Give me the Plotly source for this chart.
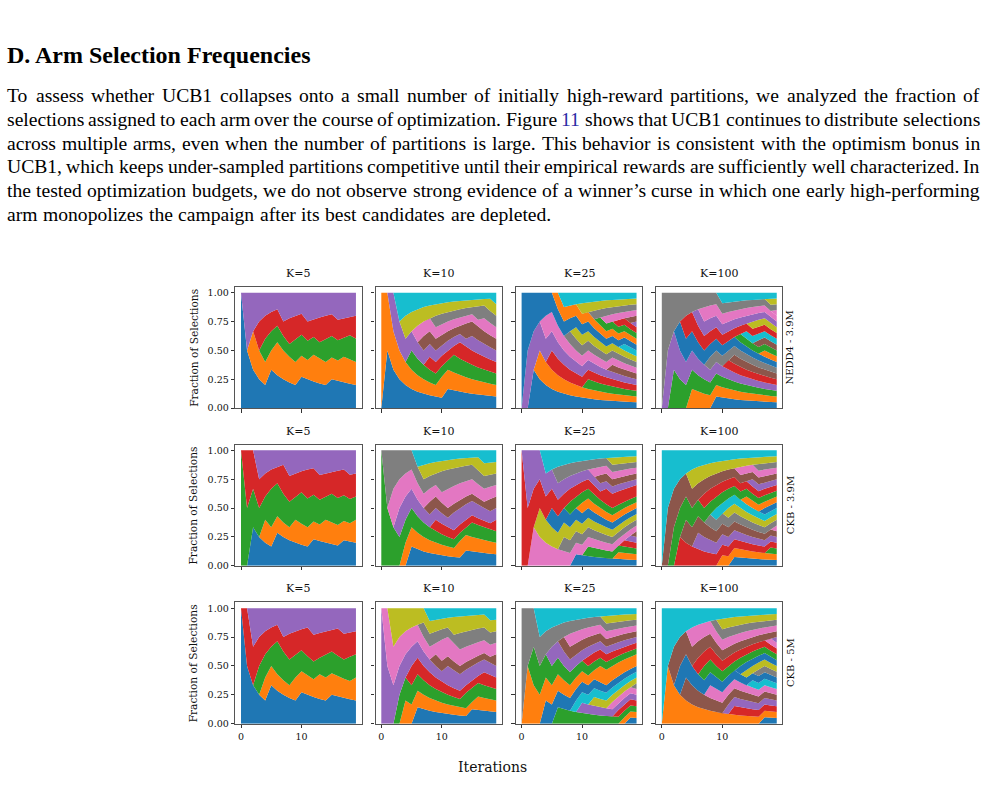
import numpy as np
import plotly.graph_objects as go

W, H = 986, 802

# ---------------- data ----------------
ITERATIONS = list(range(20))
K_VALUES = [5, 10, 25, 100]
DATASETS = ["NEDD4 - 3.9M", "CKB - 3.9M", "CKB - 5M"]
Y_TICKS = [0.0, 0.25, 0.5, 0.75, 1.0]
Y_TICK_LABELS = ["0.00", "0.25", "0.50", "0.75", "1.00"]
X_TICKS = [0, 10]
X_TICK_LABELS = ["0", "10"]

# arm (partition index) selected by UCB1 at each iteration
SEL_NEDD4_39_K5 = [0, 4, 1, 3, 2, 0, 1, 4, 3, 2, 0, 4, 1, 3, 2, 0, 4, 1, 2, 3]
SEL_NEDD4_39_K10 = [1, 0, 4, 9, 8, 2, 6, 5, 3, 7, 1, 0, 2, 3, 5, 4, 7, 6, 8, 9]
SEL_NEDD4_39_K25 = [10, 4, 0, 1, 6, 3, 11, 19, 7, 8, 18, 2, 17, 12, 16, 5, 13, 9, 15, 14]
SEL_NEDD4_39_K100 = [97, 4, 2, 20, 33, 1, 44, 56, 17, 0, 99, 13, 15, 22, 29, 38, 25, 21, 98, 86]

SEL_CKB_39_K5 = [2, 3, 0, 4, 1, 2, 0, 3, 4, 1, 2, 3, 0, 4, 1, 2, 3, 0, 4, 1]
SEL_CKB_39_K10 = [2, 7, 6, 4, 1, 0, 9, 8, 5, 3, 7, 6, 4, 1, 0, 2, 8, 9, 5, 3]
SEL_CKB_39_K25 = [13, 14, 6, 8, 19, 10, 17, 7, 12, 0, 11, 2, 16, 15, 13, 18, 1, 3, 4, 5]
SEL_CKB_39_K100 = [99, 95, 92, 83, 85, 98, 84, 93, 87, 89, 81, 88, 70, 96, 91, 94, 97, 90, 82, 86]

SEL_CKB_5_K5 = [0, 3, 4, 2, 1, 0, 2, 4, 3, 1, 0, 3, 4, 1, 2, 0, 3, 4, 2, 1]
SEL_CKB_5_K10 = [4, 6, 8, 2, 1, 3, 0, 7, 9, 5, 6, 4, 8, 7, 2, 0, 1, 3, 9, 5]
SEL_CKB_5_K25 = [17, 11, 12, 19, 10, 14, 2, 15, 16, 9, 4, 13, 8, 11, 18, 6, 3, 1, 0, 7]
SEL_CKB_5_K100 = [99, 11, 95, 40, 35, 96, 63, 62, 36, 97, 98, 24, 13, 50, 48, 39, 47, 0, 66, 84]

PANELS = [
    [SEL_NEDD4_39_K5, SEL_NEDD4_39_K10, SEL_NEDD4_39_K25, SEL_NEDD4_39_K100],
    [SEL_CKB_39_K5, SEL_CKB_39_K10, SEL_CKB_39_K25, SEL_CKB_39_K100],
    [SEL_CKB_5_K5, SEL_CKB_5_K10, SEL_CKB_5_K25, SEL_CKB_5_K100],
]

TAB10 = ["#1f77b4", "#ff7f0e", "#2ca02c", "#d62728", "#9467bd",
         "#8c564b", "#e377c2", "#7f7f7f", "#bcbd22", "#17becf"]

HEADING = "D. Arm Selection Frequencies"
PARAGRAPH = [
    "To assess whether UCB1 collapses onto a small number of initially high-reward partitions, we analyzed the fraction of",
    "selections assigned to each arm over the course of optimization. Figure 11 shows that UCB1 continues to distribute selections",
    "across multiple arms, even when the number of partitions is large. This behavior is consistent with the optimism bonus in",
    "UCB1, which keeps under-sampled partitions competitive until their empirical rewards are sufficiently well characterized. In",
    "the tested optimization budgets, we do not observe strong evidence of a winner’s curse in which one early high-performing",
    "arm monopolizes the campaign after its best candidates are depleted.",
]
LINK_WORD = "11"

# ---------------- layout (pixels) ----------------
COL_T0 = [241.0, 381.3, 521.6, 661.8]   # pixel of iteration 0
PX_PER_ITER = 6.05
ROW_Y0 = [410.7, 569.4, 728.2]          # pixel of fraction 0
PX_PER_FRAC = 116.2
XLIM = [-0.95, 19.95]
YLIM = [0.0, 1.05]

SERIF = "DejaVu Serif"
TEXT_FONT = "Liberation Serif"
FRAME = "#555555"
TEXT_LEFT, TEXT_RIGHT = 7.0, 980.0
PARA_SIZE = 19.6
PARA_Y0, PARA_DY = 96, 24

# Times-Roman advance widths (1/1000 em) for justification
TIMES_W = {' ': 250, ',': 250, '.': 250, '-': 333, '’': 333, "'": 333,
           '0': 500, '1': 500, '2': 500, '3': 500, '4': 500, '5': 500,
           '6': 500, '7': 500, '8': 500, '9': 500,
           'A': 722, 'B': 667, 'C': 667, 'D': 722, 'E': 611, 'F': 556, 'G': 722,
           'H': 722, 'I': 333, 'J': 389, 'K': 722, 'L': 611, 'M': 889, 'N': 722,
           'O': 722, 'P': 556, 'Q': 722, 'R': 667, 'S': 556, 'T': 611, 'U': 722,
           'V': 722, 'W': 944, 'X': 722, 'Y': 722, 'Z': 611,
           'a': 444, 'b': 500, 'c': 444, 'd': 500, 'e': 444, 'f': 333, 'g': 500,
           'h': 500, 'i': 278, 'j': 278, 'k': 500, 'l': 278, 'm': 778, 'n': 500,
           'o': 500, 'p': 500, 'q': 500, 'r': 333, 's': 389, 't': 278, 'u': 500,
           'v': 500, 'w': 722, 'x': 500, 'y': 500, 'z': 444}


def text_w(s, size):
    return sum(TIMES_W.get(ch, 500) for ch in s) * size / 1000.0


fig = go.Figure()
annotations = []


def px2x(px):
    return px / W


def px2y(py):
    return 1 - py / H


layout_axes = {}
for r in range(3):
    for c in range(4):
        n = r * 4 + c + 1
        sfx = "" if n == 1 else str(n)
        left = COL_T0[c] + XLIM[0] * PX_PER_ITER
        right = COL_T0[c] + XLIM[1] * PX_PER_ITER
        bottom = ROW_Y0[r]
        top = ROW_Y0[r] - YLIM[1] * PX_PER_FRAC

        seq = PANELS[r][c]
        denom = np.arange(1, len(seq) + 1)
        for arm in sorted(set(seq)):
            frac = np.cumsum([1 if s == arm else 0 for s in seq]) / denom
            col = TAB10[arm % 10]
            fig.add_trace(go.Scatter(
                x=ITERATIONS, y=frac, mode="lines", stackgroup=f"g{n}",
                line=dict(width=0, color=col), fillcolor=col,
                xaxis=f"x{sfx}", yaxis=f"y{sfx}", showlegend=False,
                hoverinfo="skip"))

        layout_axes[f"xaxis{sfx}"] = dict(
            domain=[px2x(left), px2x(right)], range=XLIM, anchor=f"y{sfx}",
            showline=True, mirror=True, linecolor=FRAME, linewidth=1.2,
            ticks="outside", ticklen=3.5, tickwidth=1, tickcolor="#333333",
            tickvals=X_TICKS, ticktext=X_TICK_LABELS,
            showticklabels=(r == 2), showgrid=False, zeroline=False,
            tickfont=dict(family=SERIF, size=9.5, color="#111111"), fixedrange=True)
        layout_axes[f"yaxis{sfx}"] = dict(
            domain=[px2y(bottom), px2y(top)], range=YLIM, anchor=f"x{sfx}",
            showline=True, mirror=True, linecolor=FRAME, linewidth=1.2,
            ticks="outside", ticklen=3.5, tickwidth=1, tickcolor="#333333",
            tickvals=Y_TICKS, ticktext=Y_TICK_LABELS,
            showticklabels=(c == 0), showgrid=False, zeroline=False,
            tickfont=dict(family=SERIF, size=9.5, color="#111111"), fixedrange=True)

        annotations.append(dict(
            x=px2x((left + right) / 2), y=px2y(top - 13.5), xref="paper", yref="paper",
            text=f"K={K_VALUES[c]}", showarrow=False, xanchor="center", yanchor="middle",
            font=dict(family=SERIF, size=11, color="#111111")))

    mid = (ROW_Y0[r] + ROW_Y0[r] - YLIM[1] * PX_PER_FRAC) / 2
    annotations.append(dict(
        x=px2x(193.3), y=px2y(mid), xref="paper", yref="paper",
        text="Fraction of Selections", showarrow=False, textangle=-90,
        xanchor="center", yanchor="middle",
        font=dict(family=SERIF, size=10.6, color="#111111")))
    annotations.append(dict(
        x=px2x(790), y=px2y(mid), xref="paper", yref="paper",
        text=DATASETS[r], showarrow=False, textangle=-90,
        xanchor="center", yanchor="middle",
        font=dict(family=SERIF, size=10, color="#111111")))

annotations.append(dict(
    x=px2x(492), y=px2y(772), xref="paper", yref="paper", text="Iterations",
    showarrow=False, xanchor="center", yanchor="middle",
    font=dict(family=SERIF, size=14, color="#111111")))

# ---------------- page text ----------------
annotations.append(dict(
    x=px2x(TEXT_LEFT - 2), y=px2y(55), xref="paper", yref="paper",
    text=f"<b>{HEADING}</b>", showarrow=False,
    xanchor="left", yanchor="middle",
    font=dict(family=TEXT_FONT, size=24, color="#000000")))

for i, line in enumerate(PARAGRAPH):
    yy = PARA_Y0 + PARA_DY * i
    words = line.split(" ")
    widths = [text_w(wd, PARA_SIZE) for wd in words]
    last = (i == len(PARAGRAPH) - 1)
    if last:
        gap = text_w(" ", PARA_SIZE) + 0.6
    else:
        gap = (TEXT_RIGHT - TEXT_LEFT - sum(widths)) / (len(words) - 1)
    x = TEXT_LEFT
    for wd, ww in zip(words, widths):
        txt = wd
        if wd == LINK_WORD:
            txt = f"<span style='color:#2a2aa5'>{wd}</span>"
        annotations.append(dict(
            x=px2x(x + ww / 2), y=px2y(yy), xref="paper", yref="paper", text=txt,
            showarrow=False, xanchor="center", yanchor="middle",
            borderpad=0, borderwidth=0,
            font=dict(family=TEXT_FONT, size=PARA_SIZE, color="#000000")))
        x += ww + gap

fig.update_layout(
    width=W, height=H, autosize=False,
    margin=dict(l=0, r=0, t=0, b=0, pad=0),
    paper_bgcolor="white", plot_bgcolor="white",
    annotations=annotations, showlegend=False, **layout_axes)

fig.write_html("out.html", config={"displayModeBar": False})
